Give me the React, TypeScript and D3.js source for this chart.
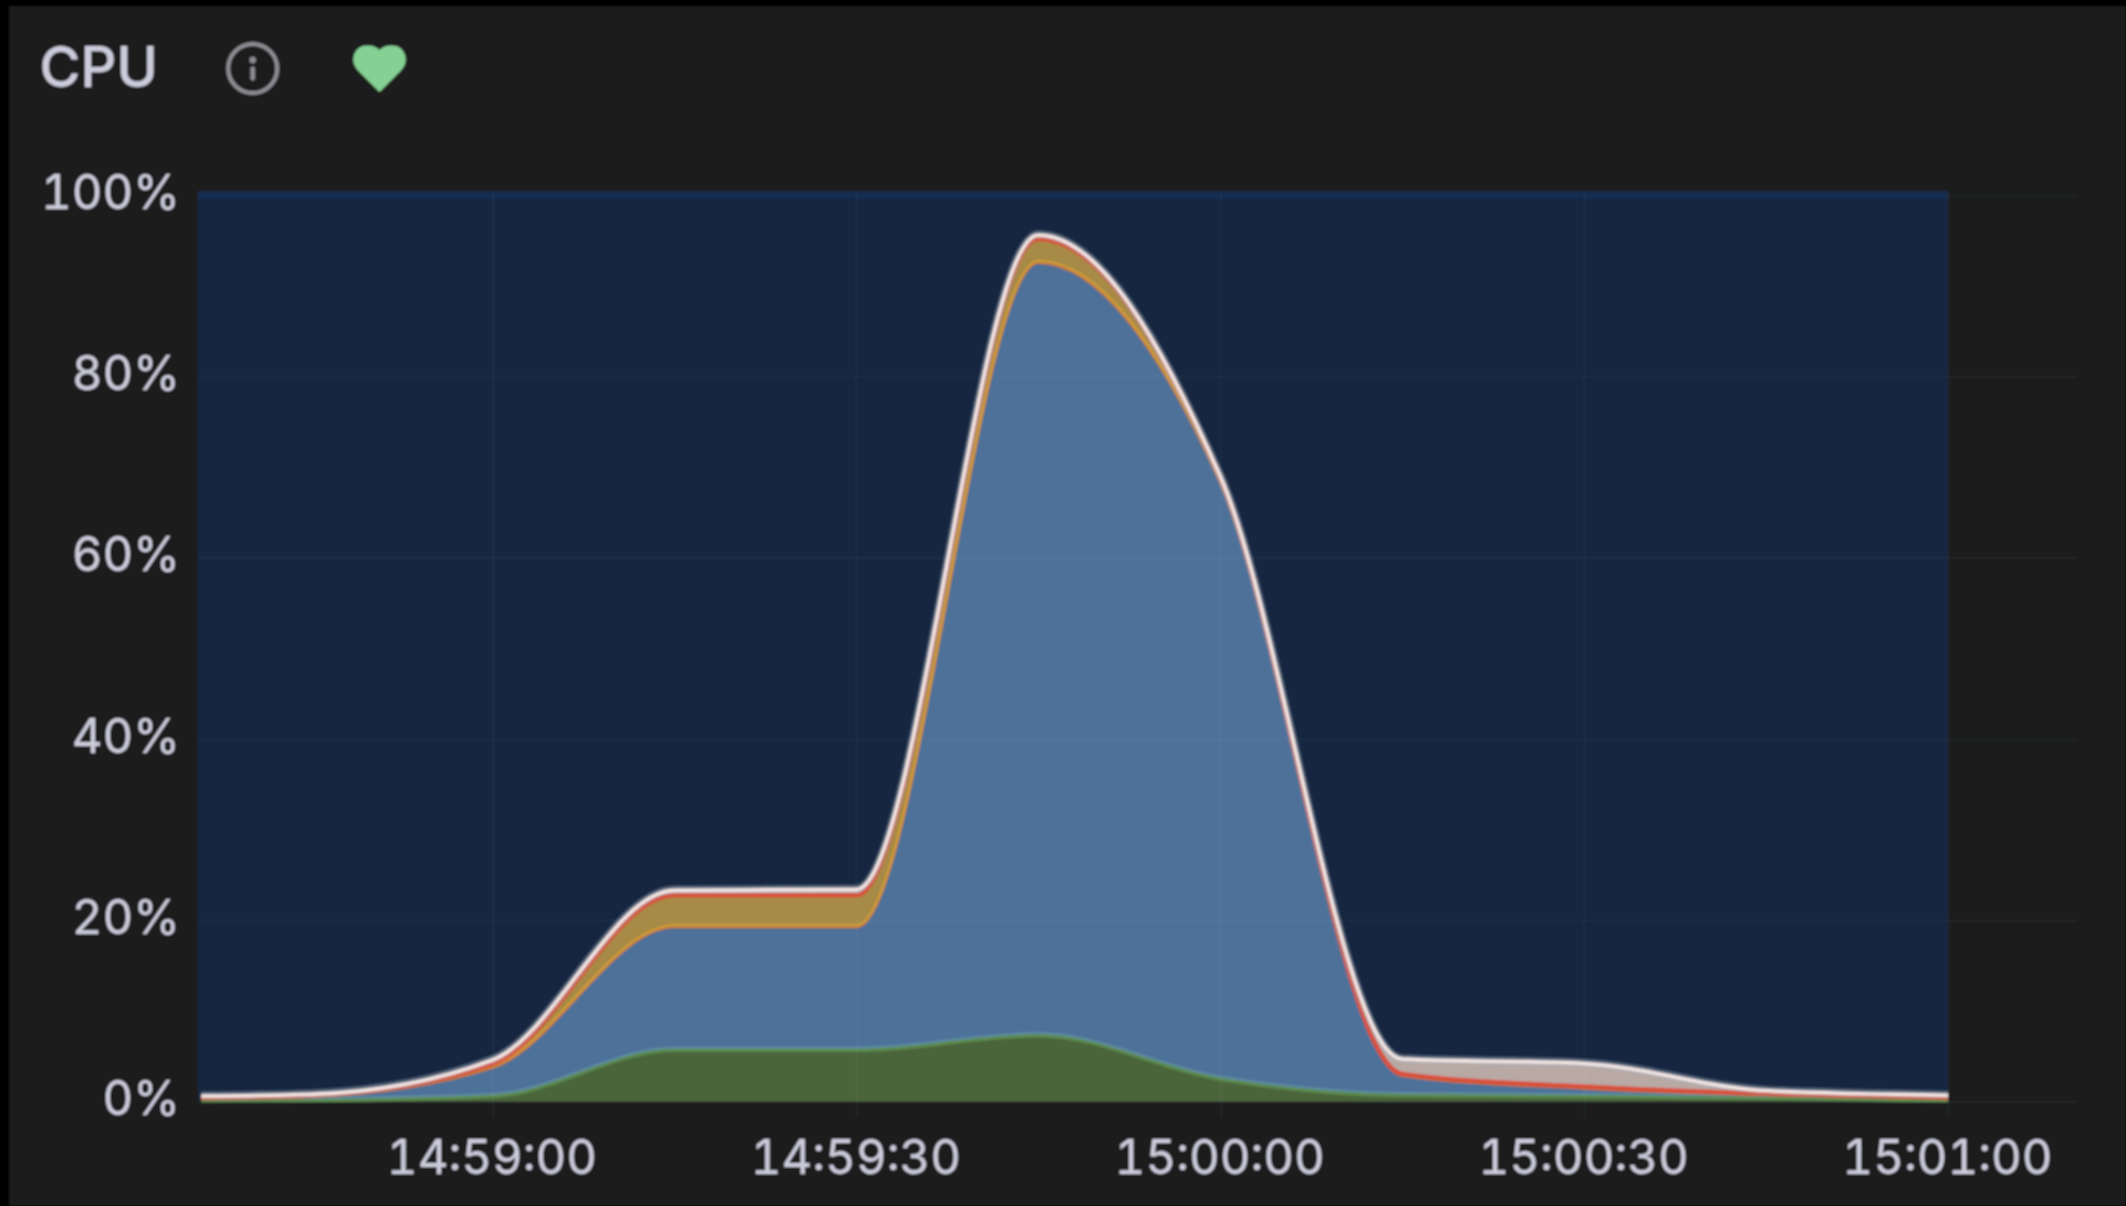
// App.tsx
import React, { useRef, useEffect } from 'react';
import * as d3 from 'd3';

const WIDTH = 2126;
const HEIGHT = 1206;

// sample times
const times = ['14:58:36', '14:58:45', '14:59:00', '14:59:15', '14:59:30', '14:59:45', '15:00:00', '15:00:15', '15:00:30', '15:00:45', '15:01:00'];
const tickTimes = ['14:59:00', '14:59:30', '15:00:00', '15:00:30', '15:01:00'];
const percentTicks = [0, 20, 40, 60, 80, 100];

// stacked layers, bottom to top, in percent
const system = [0.2, 0.25, 0.7, 5.8, 5.8, 7.4, 2.6, 0.8, 0.7, 0.5, 0.2];
const user = [0.2, 0.35, 3.1, 13.5, 13.5, 85.2, 65.8, 2.1, 0.8, 0.3, 0.2];
const iowait = [0.05, 0.1, 0.4, 3.5, 3.5, 2.6, 0.5, 0.2, 0.2, 0.1, 0.1];
const other = [0.15, 0.1, 0.4, 0.5, 0.6, 0.4, 0.1, 1.6, 2.5, 0.3, 0.2];

const parseTime = d3.timeParse('%H:%M:%S');
const rows = times.map((t, i) => ({
    time: parseTime(t) as Date,
    system: system[i],
    user: user[i],
    iowait: iowait[i],
    other: other[i],
}));

const App = () => {
    const ref = useRef<SVGSVGElement>(null);

    useEffect(() => {
        document.body.style.margin = '0';
        document.body.style.background = '#000';

        const svg = d3.select(ref.current);
        svg.selectAll('*').remove();

        const left = 198;
        const right = 1948;
        const gridRight = 2077;
        const bandTop = 191.5;
        const y0 = 1101.5;
        const y100 = 195;

        const x = d3.scaleTime()
            .domain([parseTime('14:59:00') as Date, parseTime('15:01:00') as Date])
            .range([492.5, right]);
        const y = d3.scaleLinear().domain([0, 100]).range([y0, y100]);

        const defs = svg.append('defs');
        defs.append('filter').attr('id', 'soft')
            .attr('filterUnits', 'userSpaceOnUse')
            .attr('x', 0).attr('y', 0).attr('width', WIDTH).attr('height', HEIGHT)
            .append('feGaussianBlur').attr('stdDeviation', 1);
        defs.append('clipPath').attr('id', 'plot')
            .append('rect')
            .attr('x', left).attr('y', bandTop)
            .attr('width', right - left).attr('height', y0 - bandTop + 1);

        // outer black frame, then the panel
        svg.append('rect').attr('width', WIDTH).attr('height', HEIGHT).attr('fill', '#000');
        const root = svg.append('g').attr('filter', 'url(#soft)');
        root.append('rect')
            .attr('x', 9).attr('y', 6)
            .attr('width', WIDTH - 9).attr('height', HEIGHT - 6)
            .attr('fill', '#1a1c1f');

        // threshold band
        root.append('rect')
            .attr('x', left).attr('y', bandTop)
            .attr('width', right - left).attr('height', y0 - bandTop)
            .attr('fill', '#12263f');
        root.append('rect')
            .attr('x', left).attr('y', bandTop)
            .attr('width', right - left).attr('height', 8)
            .attr('fill', '#142a4e');

        // stack
        const stack = d3.stack<any>().keys(['system', 'user', 'iowait', 'other']);
        const layers = stack(rows);
        const fills = ['#4b653b', '#4e7199', '#a68a45', '#b8a9a5'];

        const area = d3.area<any>()
            .x(d => x(d.data.time))
            .y0(d => y(d[0]))
            .y1(d => y(d[1]))
            .curve(d3.curveMonotoneX);
        const line = d3.line<any>()
            .x(d => x(d.data.time))
            .y(d => y(d[1]))
            .curve(d3.curveMonotoneX);

        const plot = root.append('g').attr('clip-path', 'url(#plot)');

        plot.selectAll('path.area')
            .data(layers)
            .enter()
            .append('path')
            .attr('class', 'area')
            .attr('d', area)
            .attr('fill', (d, i) => fills[i]);

        const stroke = (layer: any, color: string, width: number, opacity = 1, dy = 0) =>
            plot.append('path')
                .datum(layer)
                .attr('d', line)
                .attr('fill', 'none')
                .attr('stroke', color)
                .attr('stroke-width', width)
                .attr('stroke-opacity', opacity)
                .attr('stroke-linejoin', 'round')
                .attr('transform', `translate(0,${dy})`);

        // series lines
        stroke(layers[0], '#5b8a4e', 4, 1, 1);
        stroke(layers[0], '#5f8fa3', 2, 1, -1.2);
        stroke(layers[1], '#c8762f', 3, 1, 0.3);
        stroke(layers[1], '#cf9a3b', 2.5, 1, -1.2);
        stroke(layers[2], '#d9503a', 4.5, 1, 0.5);
        stroke(layers[3], '#a7b1c2', 8, 0.45, -0.5);
        stroke(layers[3], '#f3e6e4', 3.5);

        // y axis and horizontal grid
        const yAxis = root.append('g')
            .attr('transform', `translate(${left},0)`)
            .call(d3.axisLeft(y)
                .tickValues(percentTicks)
                .tickFormat(d => `${d}%`)
                .tickSize(-(gridRight - left))
                .tickPadding(18));

        // x axis and vertical grid, ticks run past the plot bottom
        const xAxis = root.append('g')
            .attr('transform', 'translate(0,1117)')
            .call(d3.axisBottom(x)
                .tickValues(tickTimes.map(t => parseTime(t) as Date))
                .tickFormat(d3.timeFormat('%H:%M:%S') as any)
                .tickSize(-(1117 - bandTop))
                .tickPadding(23));

        [yAxis, xAxis].forEach(axis => {
            axis.select('.domain').remove();
            axis.selectAll('line')
                .attr('stroke', '#fff')
                .attr('stroke-opacity', 0.04)
                .attr('stroke-width', 2);
            axis.selectAll('text')
                .attr('fill', '#ccccdc')
                .attr('font-family', 'Inter')
                .attr('font-size', 47.5)
                .style('font-variant-numeric', 'tabular-nums');
        });
        yAxis.selectAll('text').attr('transform', 'translate(0,-2)');
        xAxis.selectAll('text').attr('transform', 'translate(-1,0)');

        // header
        root.append('text')
            .attr('x', 39.5).attr('y', 87)
            .attr('fill', '#ccccdc')
            .attr('font-family', 'Inter')
            .attr('font-weight', 500)
            .attr('font-size', 56)
            .text('CPU');

        // info icon
        const info = root.append('g').attr('transform', 'translate(252.7,68.5)');
        info.append('circle').attr('r', 24.5)
            .attr('fill', 'none').attr('stroke', '#8e8e95').attr('stroke-width', 4);
        info.append('circle').attr('cy', -8.5).attr('r', 3.2).attr('fill', '#8e8e95');
        info.append('rect').attr('x', -2.2).attr('y', -2).attr('width', 4.4).attr('height', 14).attr('rx', 2).attr('fill', '#8e8e95');

        // heart icon
        root.append('path')
            .attr('transform', 'translate(379.5,46)')
            .attr('d', 'M0,44 L-20,24 C-29,14 -24,1 -12,1 C-8,1 -3,3 0,6 C3,3 8,1 12,1 C24,1 29,14 20,24 Z')
            .attr('fill', '#85d193')
            .attr('stroke', '#85d193')
            .attr('stroke-width', 3)
            .attr('stroke-linejoin', 'round');
    }, []);

    return (
        <svg
            ref={ref}
            width={WIDTH}
            height={HEIGHT}
            style={{ position: 'absolute', left: 0, top: 0, display: 'block' }}
        />
    );
};

export default App;
